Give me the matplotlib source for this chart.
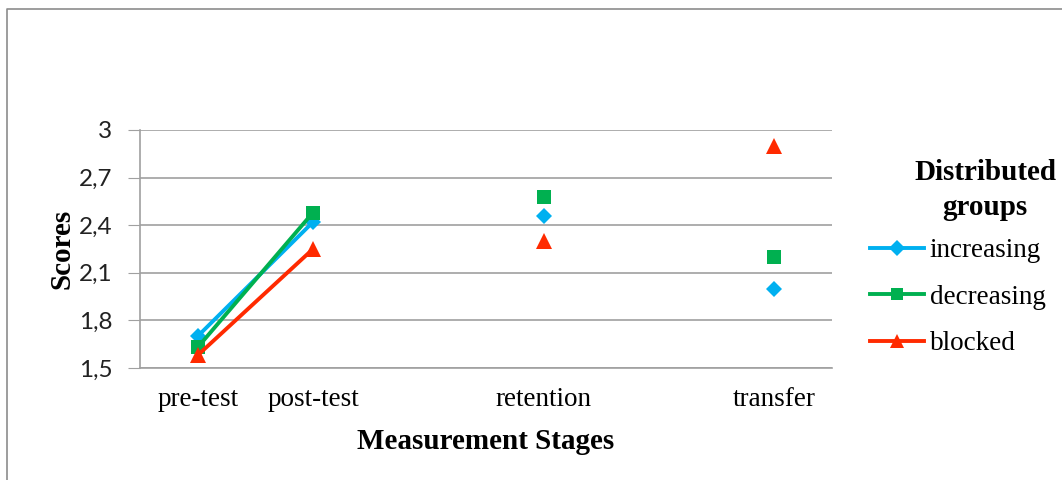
import matplotlib.pyplot as plt
from matplotlib.lines import Line2D
from matplotlib.ticker import FuncFormatter

# data
stages = ['pre-test', 'post-test', 'retention', 'transfer']
stage_pos = [0, 1, 3, 5]
increasing = [1.70, 2.42, 2.46, 2.00]
decreasing = [1.63, 2.48, 2.58, 2.20]
blocked = [1.58, 2.25, 2.30, 2.90]
y_ticks = [1.5, 1.8, 2.1, 2.4, 2.7, 3.0]

series = [
    ('increasing', increasing, '#00B0F0', 'D', 8.5),
    ('decreasing', decreasing, '#00B050', 's', 9.5),
    ('blocked', blocked, '#FF2A00', '^', 11.5),
]

serif = ['Liberation Serif', 'DejaVu Serif']

fig = plt.figure(figsize=(10.62, 4.8), dpi=100)
ax = fig.add_axes([140 / 1062, 1 - 368 / 480, 692 / 1062, 238 / 480])

handles = []
for name, vals, col, mk, ms in series:
    # only pre/post are joined by a line
    ax.plot(stage_pos[:2], vals[:2], color=col, lw=2.8, marker=mk, ms=ms,
            markeredgewidth=0, zorder=3)
    ax.plot(stage_pos[2:], vals[2:], ls='none', color=col, marker=mk, ms=ms,
            markeredgewidth=0, zorder=3)
    handles.append(Line2D([0], [0], color=col, lw=2.8, marker=mk, ms=ms * 0.9,
                          markeredgewidth=0))

ax.set_xlim(-0.5, 5.5)
ax.set_ylim(1.5, 3.0)
ax.set_yticks(y_ticks)
ax.yaxis.set_major_formatter(FuncFormatter(
    lambda v, p: ('%g' % round(v, 1)).replace('.', ',')))
ax.set_xticks(stage_pos)
ax.set_xticklabels(stages, fontfamily=serif, fontsize=19.5)
ax.tick_params(axis='x', length=0, pad=14)
ax.tick_params(axis='y', length=9, color='#A0A0A0', pad=11, labelsize=17.5)
for lab in ax.get_yticklabels():
    lab.set_fontfamily(['Lato', 'DejaVu Sans'])
    lab.set_color('#222222')

ax.grid(axis='y', color='#A0A0A0', lw=1.2)
ax.set_axisbelow(True)
for s in ['top', 'right']:
    ax.spines[s].set_visible(False)
for s in ['left', 'bottom']:
    ax.spines[s].set_color('#A0A0A0')
    ax.spines[s].set_linewidth(1.2)

ax.set_xlabel('Measurement Stages', fontfamily=serif, fontsize=21,
              fontweight='bold', labelpad=11)
ax.set_ylabel('Scores', fontfamily=serif, fontsize=21, fontweight='bold',
              labelpad=2)

# legend title drawn separately so it can sit centred like the original
fig.text(985 / 1062, 1 - 190 / 480, 'Distributed\ngroups', ha='center',
         va='center', fontfamily=serif, fontsize=21, fontweight='bold',
         linespacing=1.42)
fig.legend(handles, [s[0] for s in series], loc='upper left',
           bbox_to_anchor=(870 / 1062, 1 - 238 / 480), frameon=False,
           handlelength=2.0, handletextpad=0.2, labelspacing=0.8,
           borderaxespad=0, borderpad=0,
           prop={'family': serif, 'size': 19.5})

# outer chart frame (left and top edges visible)
fig.add_artist(Line2D([7 / 1062, 7 / 1062, 1.0], [0.0, 1 - 9 / 480, 1 - 9 / 480],
                      transform=fig.transFigure, color='#8C8C8C', lw=1.2))

fig.savefig('out.png', dpi=100)
